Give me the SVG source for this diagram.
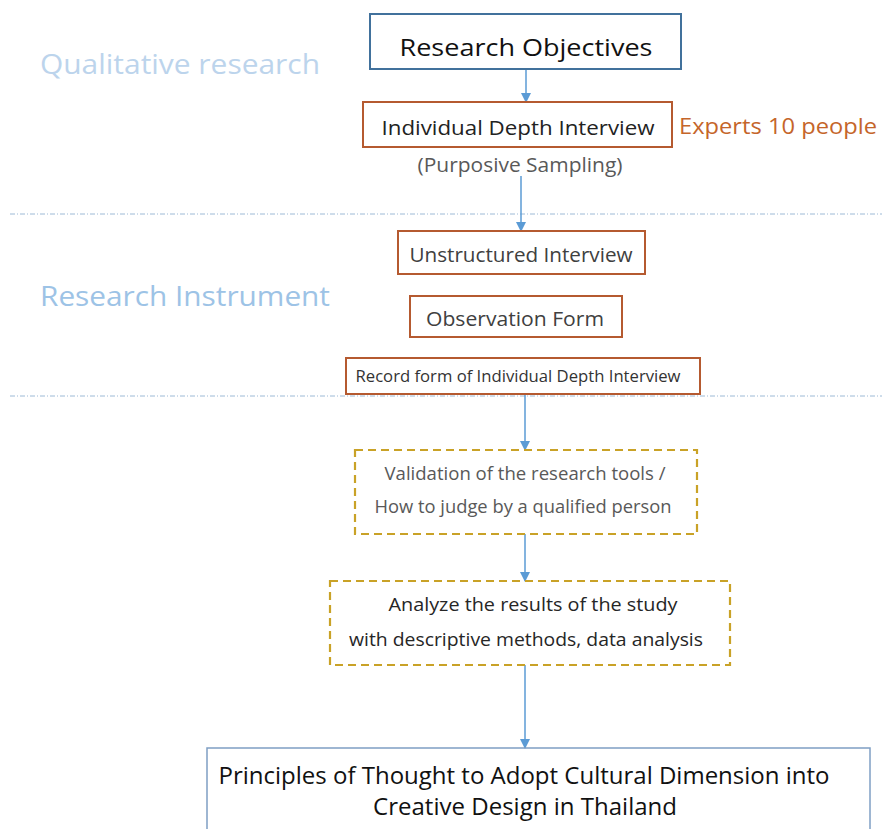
<svg xmlns="http://www.w3.org/2000/svg" width="882" height="829" viewBox="0 0 882 829">
<defs>
<marker id="ah" markerWidth="10" markerHeight="10" refX="9" refY="5" orient="auto" markerUnits="userSpaceOnUse">
<path d="M0,0 L10,5 L0,10 Z" fill="#5b9bd5"/>
</marker>
<style>
.t{font-family:"Open Sans","Noto Sans","Liberation Sans",sans-serif;}
.blue{fill:none;stroke:#41719c;stroke-width:2;}
.brown{fill:none;stroke:#b55a30;stroke-width:2;}
.gold{fill:none;stroke:#c9a227;stroke-width:2.2;stroke-dasharray:8 5;}
.conn{stroke:#5b9bd5;stroke-width:1.5;fill:none;marker-end:url(#ah);}
.sep{stroke:#9dbad6;stroke-width:1;stroke-dasharray:5 2 1 2;}
</style>
</defs>
<rect width="882" height="829" fill="#ffffff"/>
<g id="separators">
<line class="sep" x1="10" y1="214" x2="882" y2="214"/>
<line class="sep" x1="10" y1="396" x2="882" y2="396"/>
</g>
<g id="section-labels">
<text class="t" x="40" y="74" font-size="28" fill="#bcd4ec" textLength="280" lengthAdjust="spacingAndGlyphs">Qualitative research</text>
<text class="t" x="40" y="306" font-size="28" fill="#9dc3e6" textLength="290" lengthAdjust="spacingAndGlyphs">Research Instrument</text>
</g>
<g id="connectors">
<line class="conn" x1="526" y1="70" x2="526" y2="102"/>
<line class="conn" x1="521" y1="176" x2="521" y2="231"/>
<line class="conn" x1="525" y1="394" x2="525" y2="450"/>
<line class="conn" x1="525" y1="534" x2="525" y2="581"/>
<line class="conn" x1="525" y1="665" x2="525" y2="748"/>
</g>
<g id="research-objectives">
<rect class="blue" x="370" y="14" width="311" height="55"/>
<text class="t" x="526" y="56" font-size="24" fill="#111111" text-anchor="middle" textLength="253" lengthAdjust="spacingAndGlyphs">Research Objectives</text>
</g>
<g id="individual-depth-interview">
<rect class="brown" x="363" y="102" width="309" height="45"/>
<text class="t" x="518" y="135" font-size="20" fill="#222222" text-anchor="middle" textLength="273" lengthAdjust="spacingAndGlyphs">Individual Depth Interview</text>
<text class="t" x="679" y="134" font-size="22" fill="#c5652a" textLength="198" lengthAdjust="spacingAndGlyphs">Experts 10 people</text>
<text class="t" x="520" y="172" font-size="20" fill="#595959" text-anchor="middle" textLength="205" lengthAdjust="spacingAndGlyphs">(Purposive Sampling)</text>
</g>
<g id="unstructured-interview">
<rect class="brown" x="398" y="231" width="247" height="43"/>
<text class="t" x="521" y="262" font-size="20" fill="#404040" text-anchor="middle" textLength="223" lengthAdjust="spacingAndGlyphs">Unstructured Interview</text>
</g>
<g id="observation-form">
<rect class="brown" x="410" y="296" width="212" height="41"/>
<text class="t" x="515" y="326" font-size="20" fill="#404040" text-anchor="middle" textLength="178" lengthAdjust="spacingAndGlyphs">Observation Form</text>
</g>
<g id="record-form">
<rect class="brown" x="346" y="358" width="354" height="36"/>
<text class="t" x="518" y="382" font-size="16" fill="#333333" text-anchor="middle" textLength="325" lengthAdjust="spacingAndGlyphs">Record form of Individual Depth Interview</text>
</g>
<g id="validation">
<rect class="gold" x="355" y="450" width="342" height="84"/>
<text class="t" x="525" y="480" font-size="18" fill="#595959" text-anchor="middle" textLength="281" lengthAdjust="spacingAndGlyphs">Validation of the research tools /</text>
<text class="t" x="523" y="513" font-size="18" fill="#595959" text-anchor="middle" textLength="297" lengthAdjust="spacingAndGlyphs">How to judge by a qualified person</text>
</g>
<g id="analyze">
<rect class="gold" x="330" y="581" width="400" height="84"/>
<text class="t" x="533" y="611" font-size="19" fill="#262626" text-anchor="middle" textLength="289" lengthAdjust="spacingAndGlyphs">Analyze the results of the study</text>
<text class="t" x="526" y="646" font-size="19" fill="#262626" text-anchor="middle" textLength="354" lengthAdjust="spacingAndGlyphs">with descriptive methods, data analysis</text>
</g>
<g id="principles">
<rect x="207" y="748" width="663" height="90" fill="none" stroke="#7f9fc4" stroke-width="1.5"/>
<text class="t" x="524" y="784" font-size="24" fill="#111111" text-anchor="middle" textLength="611" lengthAdjust="spacingAndGlyphs">Principles of Thought to Adopt Cultural Dimension into</text>
<text class="t" x="525" y="815" font-size="24" fill="#111111" text-anchor="middle" textLength="304" lengthAdjust="spacingAndGlyphs">Creative Design in Thailand</text>
</g>
</svg>
